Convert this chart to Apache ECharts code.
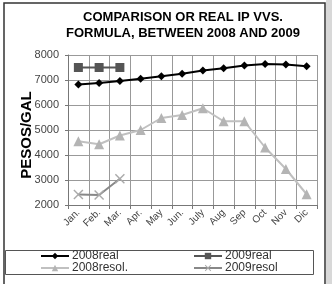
<!DOCTYPE html>
<html>
<head>
<meta charset="utf-8">
<script src="https://cdn.jsdelivr.net/npm/echarts@6/dist/echarts.min.js"></script>
<style>
  html, body { margin: 0; padding: 0; background: #fff; }
  #chart { width: 332px; height: 284px; }
</style>
</head>
<body>
<div id="chart"></div>
<script>
var months = ['Jan.', 'Feb.', 'Mar.', 'Apr.', 'May', 'Jun.', 'July', 'Aug', 'Sep', 'Oct', 'Nov', 'Dic'];
var real2008 = [6820, 6880, 6960, 7050, 7150, 7250, 7380, 7470, 7580, 7640, 7620, 7550];
var real2009 = [7500, 7500, 7500];
var resol2008 = [4550, 4430, 4780, 5000, 5480, 5600, 5870, 5350, 5350, 4300, 3440, 2430];
var resol2009 = [2420, 2400, 3050];

var xMark = 'path://M0,1 L1,0 L5,4 L9,0 L10,1 L6,5 L10,9 L9,10 L5,6 L1,10 L0,9 L4,5 Z';
var font = 'Liberation Sans';

var myChart = echarts.init(document.getElementById('chart'));
var option = {
    animation: false,
    textStyle: { fontFamily: font },
    title: {
        text: 'COMPARISON OR REAL IP VVS.\nFORMULA, BETWEEN 2008 AND 2009',
        left: 178,
        textAlign: 'center',
        top: 4,
        textStyle: { fontSize: 13, fontWeight: 'bold', color: '#000', lineHeight: 16, fontFamily: font }
    },
    graphic: [
        { type: 'rect', shape: { x: 326, y: 0, width: 6, height: 284 }, style: { fill: '#d8d8d8' } },
        { type: 'rect', shape: { x: 4, y: 3, width: 321, height: 290 }, style: { fill: 'none', stroke: '#333', lineWidth: 1.5 } },
        { type: 'rect', shape: { x: 5.5, y: 250.5, width: 308, height: 24 }, style: { fill: 'none', stroke: '#555', lineWidth: 1 } }
    ],
    legend: [{
        data: ['2008real', '2008resol.'],
        orient: 'vertical',
        left: 40,
        top: 250,
        padding: 0,
        itemGap: 0,
        itemWidth: 28,
        itemHeight: 8,
        textStyle: { fontSize: 12, color: '#333', padding: [0, 0, 0, -2] }
    }, {
        data: ['2009real', '2009resol'],
        orient: 'vertical',
        left: 193,
        top: 250,
        padding: 0,
        itemGap: 0,
        itemWidth: 28,
        itemHeight: 8,
        textStyle: { fontSize: 12, color: '#333', padding: [0, 0, 0, -2] }
    }],
    grid: { left: 68, right: 15, top: 55, bottom: 79, containLabel: false },
    xAxis: {
        type: 'category',
        data: months,
        boundaryGap: true,
        axisLine: { lineStyle: { color: '#777' } },
        axisTick: { show: true, length: 4, lineStyle: { color: '#777' } },
        axisLabel: { rotate: 45, fontSize: 10, color: '#444', margin: 6, interval: 0 },
        splitLine: { show: true, lineStyle: { color: '#999' } }
    },
    yAxis: {
        type: 'value',
        min: 2000,
        max: 8000,
        interval: 1000,
        name: 'PESOS/GAL',
        nameLocation: 'middle',
        nameGap: 34,
        nameMoveOverlap: false,
        nameTextStyle: { fontSize: 15, fontWeight: 'bold', color: '#000', padding: [0, 10, 0, 0] },
        axisLine: { show: true, lineStyle: { color: '#777' } },
        axisTick: { show: true, length: 3, lineStyle: { color: '#777' } },
        axisLabel: { fontSize: 11, color: '#444', margin: 9, formatter: function (v) { return String(v); } },
        splitLine: { lineStyle: { color: '#999' } }
    },
    series: [{
        name: '2008real',
        type: 'line',
        data: real2008,
        symbol: 'diamond',
        symbolSize: 8,
        itemStyle: { color: '#000' },
        lineStyle: { color: '#000', width: 2 }
    }, {
        name: '2009real',
        type: 'line',
        data: real2009,
        symbol: 'rect',
        symbolSize: 9,
        itemStyle: { color: '#555' },
        lineStyle: { color: '#555', width: 2 }
    }, {
        name: '2008resol.',
        type: 'line',
        data: resol2008,
        symbol: 'triangle',
        symbolSize: 10,
        itemStyle: { color: '#b4b4b4' },
        lineStyle: { color: '#c0c0c0', width: 2 }
    }, {
        name: '2009resol',
        type: 'line',
        data: resol2009,
        symbol: xMark,
        symbolSize: 10,
        itemStyle: { color: '#aaa' },
        lineStyle: { color: '#888', width: 2 }
    }]
};
myChart.setOption(option);
</script>
</body>
</html>
